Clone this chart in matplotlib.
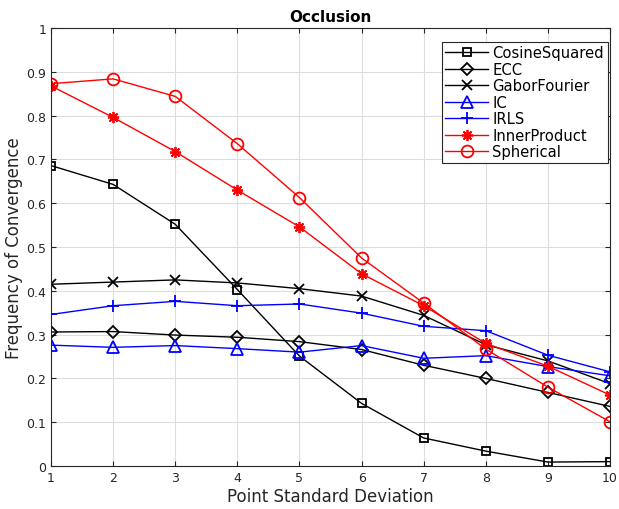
import matplotlib
matplotlib.use("Agg")
import matplotlib.pyplot as plt

x = [1, 2, 3, 4, 5, 6, 7, 8, 9, 10]
cosine_squared = [0.686, 0.643, 0.552, 0.403, 0.251, 0.143, 0.064, 0.034, 0.009, 0.010]
ecc = [0.306, 0.307, 0.299, 0.294, 0.284, 0.266, 0.230, 0.200, 0.168, 0.136]
gabor_fourier = [0.415, 0.420, 0.425, 0.418, 0.405, 0.388, 0.344, 0.277, 0.240, 0.188]
ic = [0.276, 0.271, 0.275, 0.268, 0.260, 0.275, 0.246, 0.252, 0.227, 0.206]
irls = [0.346, 0.366, 0.376, 0.366, 0.370, 0.349, 0.319, 0.309, 0.253, 0.215]
inner_product = [0.868, 0.796, 0.718, 0.630, 0.546, 0.439, 0.366, 0.280, 0.228, 0.162]
spherical = [0.873, 0.884, 0.844, 0.736, 0.613, 0.475, 0.372, 0.267, 0.180, 0.101]

series = [
    ("CosineSquared", cosine_squared, "black", "s", 6),
    ("ECC", ecc, "black", "D", 6.5),
    ("GaborFourier", gabor_fourier, "black", "x", 6.5),
    ("IC", ic, "blue", "^", 8),
    ("IRLS", irls, "blue", "+", 9),
    ("InnerProduct", inner_product, "red", (8, 2, 0), 8),
    ("Spherical", spherical, "red", "o", 8.5),
]

fig = plt.figure(figsize=(6.19, 5.10), dpi=100)
ax = fig.add_axes([0.0824, 0.0843, 0.9031, 0.8587])

for name, vals, col, mk, ms in series:
    ax.plot(x, vals, color=col, marker=mk, markersize=ms, markerfacecolor="none",
            markeredgecolor=col, markeredgewidth=1.3, linewidth=1.0, label=name)

ax.set_xlim(1, 10)
ax.set_ylim(0, 1)
ax.set_xticks(x)
ax.set_yticks([0, 0.1, 0.2, 0.3, 0.4, 0.5, 0.6, 0.7, 0.8, 0.9, 1])
ax.set_yticklabels(["0", "0.1", "0.2", "0.3", "0.4", "0.5", "0.6", "0.7", "0.8", "0.9", "1"])
ax.grid(True, color="#dddddd", linewidth=0.8)
ax.set_axisbelow(True)
ax.tick_params(direction="in", top=True, right=True, labelsize=9, colors="#262626")
for s in ax.spines.values():
    s.set_color("#262626")
    s.set_linewidth(0.8)
ax.set_xlabel("Point Standard Deviation", fontsize=12, color="#262626", labelpad=2)
ax.set_ylabel("Frequency of Convergence", fontsize=12, color="#262626", labelpad=2)
ax.set_title("Occlusion", fontsize=11, fontweight="bold", pad=5)

leg = ax.legend(loc="upper right", fontsize=10.6, fancybox=False, edgecolor="#262626",
                framealpha=1, borderpad=0.25, labelspacing=0.1, handlelength=2.9,
                handletextpad=0.3, borderaxespad=0, bbox_to_anchor=(0.996, 0.969))
leg.get_frame().set_linewidth(0.8)

fig.savefig("out.png", dpi=100)
